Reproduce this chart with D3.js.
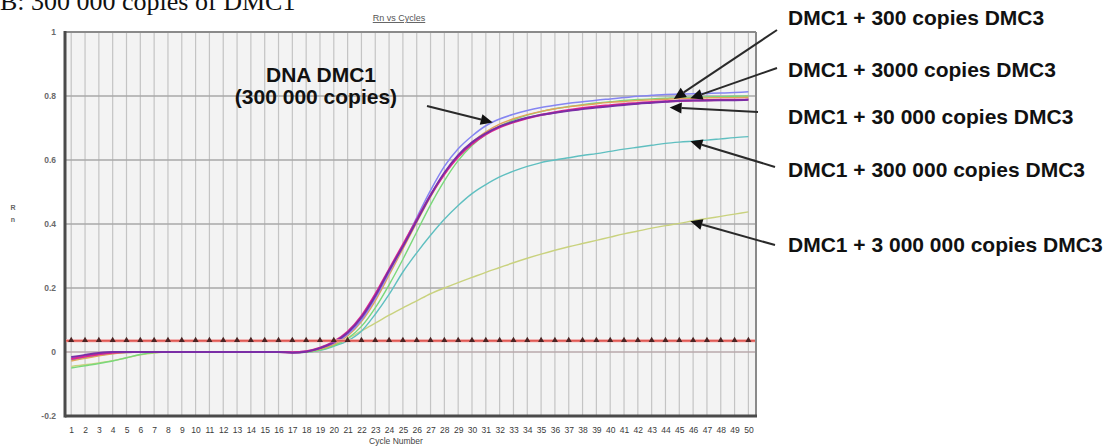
<!DOCTYPE html>
<html>
<head>
<meta charset="utf-8">
<script src="https://cdn.jsdelivr.net/npm/d3@7"></script>
<style>
  html, body { margin: 0; padding: 0; background: #fff; }
  svg { display: block; }
</style>
</head>
<body>
<svg id="chart" width="1115" height="448"></svg>
<script>
// Amplification plot: normalised reporter (Rn) per PCR cycle
const cycles = d3.range(1, 51);
const yTicks = [-0.2, 0, 0.2, 0.4, 0.6, 0.8, 1];
const yTickLabels = ["-0.2", "0", "0.2", "0.4", "0.6", "0.8", "1"];
const thresholdValue = 0.035;

const seriesNames = ["yellowgreen", "teal", "green", "orange", "blue", "magenta", "purple"];

const yellowgreen = [-0.045,-0.040,-0.034,-0.027,-0.018,-0.009,-0.003,0,0,0,
  0,0,0,0,0,0,0,0,0.008,0.022,
  0.042,0.066,0.090,0.115,0.138,0.160,0.182,0.200,0.217,0.233,
  0.249,0.264,0.279,0.293,0.306,0.318,0.329,0.339,0.349,0.359,
  0.369,0.378,0.387,0.395,0.402,0.410,0.417,0.424,0.431,0.438];

const teal = [-0.025,-0.017,-0.010,-0.005,-0.002,0,0,0,0,0,
  0,0,0,0,0,0,0,0,0.005,0.018,
  0.035,0.065,0.118,0.180,0.250,0.310,0.365,0.415,0.458,0.495,
  0.523,0.547,0.565,0.580,0.592,0.600,0.607,0.614,0.620,0.627,
  0.634,0.640,0.646,0.652,0.656,0.659,0.662,0.666,0.670,0.673];

const green = [-0.050,-0.043,-0.036,-0.028,-0.018,-0.008,-0.002,0,0,0,
  0,0,0,0,0,0,-0.002,-0.001,0.006,0.020,
  0.042,0.080,0.138,0.210,0.290,0.375,0.460,0.535,0.598,0.645,
  0.680,0.706,0.725,0.740,0.751,0.760,0.767,0.773,0.778,0.782,
  0.786,0.789,0.791,0.793,0.795,0.796,0.797,0.798,0.799,0.800];

const orange = [-0.028,-0.020,-0.012,-0.006,-0.002,0,0,0,0,0,
  0,0,0,0,0,0,0,0.001,0.009,0.024,
  0.050,0.095,0.160,0.240,0.322,0.405,0.485,0.556,0.612,0.655,
  0.688,0.712,0.729,0.742,0.752,0.760,0.766,0.771,0.776,0.780,
  0.783,0.786,0.788,0.790,0.792,0.793,0.794,0.795,0.795,0.796];

const blue = [-0.020,-0.012,-0.005,-0.001,0,0,0,0,0,0,
  0,0,0,0,0,0,0,0.002,0.012,0.028,
  0.055,0.100,0.168,0.248,0.330,0.420,0.505,0.580,0.635,0.675,
  0.707,0.728,0.743,0.755,0.764,0.771,0.777,0.782,0.787,0.791,
  0.795,0.799,0.802,0.805,0.806,0.807,0.808,0.809,0.811,0.813];

const magenta = [-0.022,-0.014,-0.007,-0.002,0,0,0,0,0,0,
  0,0,0,0,0,0,-0.001,0.002,0.013,0.032,
  0.063,0.112,0.180,0.258,0.335,0.413,0.490,0.556,0.610,0.650,
  0.680,0.702,0.718,0.731,0.741,0.749,0.756,0.762,0.767,0.771,
  0.775,0.778,0.781,0.783,0.785,0.786,0.787,0.788,0.788,0.789];

const purple = [-0.016,-0.009,-0.003,0,0,0,0,0,0,0,
  0,0,0,0,0,0,-0.002,0.001,0.012,0.030,
  0.060,0.108,0.175,0.255,0.330,0.410,0.490,0.560,0.615,0.655,
  0.683,0.705,0.720,0.732,0.741,0.748,0.754,0.759,0.764,0.768,
  0.772,0.776,0.779,0.782,0.785,0.786,0.786,0.787,0.787,0.788];

const seriesValues = { yellowgreen, teal, green, orange, blue, magenta, purple };
const seriesColors = {
  yellowgreen: "#c9d27e", teal: "#5fbfc0", green: "#7ad87a", orange: "#e2a35a",
  blue: "#8585f2", magenta: "#e0258e", purple: "#7a2ea6"
};
const seriesWidths = {
  yellowgreen: 1.4, teal: 1.4, green: 1.4, orange: 1.4, blue: 1.5, magenta: 2.2, purple: 2
};

// Callout labels and the curve each one points at
const calloutTexts = [
  "DMC1 + 300 copies DMC3",
  "DMC1 + 3000 copies DMC3",
  "DMC1 + 30 000 copies DMC3",
  "DMC1 + 300 000 copies DMC3",
  "DMC1 + 3 000 000 copies DMC3"
];
const calloutSeries = ["magenta", "orange", "purple", "teal", "yellowgreen"];
const calloutCycles = [44.6, 45.8, 44.3, 45.8, 45.8];
const dnaLabelLines = ["DNA DMC1", "(300 000 copies)"];

// ---------- layout ----------
const svg = d3.select("#chart");
const plot = { left: 65, right: 756, top: 32, bottom: 416 };

const x = d3.scaleLinear().domain([0.55, 50.55]).range([plot.left, plot.right]);
const y = d3.scaleLinear().domain([-0.2, 1]).range([plot.bottom, plot.top]);

// panel heading (partly above the page edge)
svg.append("text")
  .attr("x", 0).attr("y", 10)
  .attr("font-family", "Liberation Serif, Times New Roman, serif")
  .attr("font-size", 26)
  .attr("fill", "#111")
  .text("B: 300 000 copies of DMC1");

// chart title
svg.append("text")
  .attr("x", 399).attr("y", 21)
  .attr("text-anchor", "middle")
  .attr("font-family", "Liberation Sans, Arial, sans-serif")
  .attr("font-size", 9)
  .attr("fill", "#555")
  .attr("text-decoration", "underline")
  .text("Rn vs Cycles");

// plot background
svg.append("rect")
  .attr("x", plot.left).attr("y", plot.top)
  .attr("width", plot.right - plot.left).attr("height", plot.bottom - plot.top)
  .attr("fill", "#f3f3f3");

// vertical grid, one line per cycle
svg.append("g")
  .selectAll("line").data(cycles).join("line")
  .attr("x1", d => x(d)).attr("x2", d => x(d))
  .attr("y1", plot.top).attr("y2", plot.bottom)
  .attr("stroke", "#c4c4c4").attr("stroke-width", 1.2);

// horizontal grid
svg.append("g")
  .selectAll("line").data(yTicks.filter(v => v > -0.2 && v < 1)).join("line")
  .attr("x1", plot.left).attr("x2", plot.right)
  .attr("y1", d => y(d)).attr("y2", d => y(d))
  .attr("stroke", d => d === 0 ? "#b9a9ab" : "#a9a9a9").attr("stroke-width", 1.3);

// frame
svg.append("line").attr("x1", plot.left).attr("x2", plot.right)
  .attr("y1", plot.top).attr("y2", plot.top).attr("stroke", "#8a8a8a").attr("stroke-width", 2);
svg.append("line").attr("x1", plot.right).attr("x2", plot.right)
  .attr("y1", plot.top).attr("y2", plot.bottom).attr("stroke", "#8a8a8a").attr("stroke-width", 2);
svg.append("line").attr("x1", plot.left).attr("x2", plot.left)
  .attr("y1", plot.top - 1).attr("y2", plot.bottom + 1.5).attr("stroke", "#4a4a4a").attr("stroke-width", 3);
svg.append("line").attr("x1", plot.left).attr("x2", plot.right + 1)
  .attr("y1", plot.bottom).attr("y2", plot.bottom).attr("stroke", "#4a4a4a").attr("stroke-width", 3);

// axes (labels only)
const yAxis = d3.axisLeft(y).tickValues(yTicks).tickSize(0).tickPadding(9)
  .tickFormat((d, i) => yTickLabels[i]);
const gy = svg.append("g").attr("transform", `translate(${plot.left},0)`).call(yAxis);
gy.select(".domain").remove();
gy.selectAll("text")
  .attr("font-family", "Liberation Sans, Arial, sans-serif")
  .attr("font-size", 8.5).attr("font-weight", "bold").attr("fill", "#6a6a6a");

const xAxis = d3.axisBottom(x).tickValues(cycles).tickSize(0).tickPadding(11)
  .tickFormat(d3.format("d"));
const gx = svg.append("g").attr("transform", `translate(0,${plot.bottom})`).call(xAxis);
gx.select(".domain").remove();
gx.selectAll("text")
  .attr("font-family", "Liberation Sans, Arial, sans-serif")
  .attr("font-size", 8.5).attr("fill", "#3a3a3a");

// axis titles
svg.append("text")
  .attr("x", 396).attr("y", 444)
  .attr("text-anchor", "middle")
  .attr("font-family", "Liberation Sans, Arial, sans-serif")
  .attr("font-size", 8.5).attr("fill", "#444")
  .text("Cycle Number");
const rn = svg.append("text")
  .attr("font-family", "Liberation Sans, Arial, sans-serif")
  .attr("font-size", 7).attr("font-weight", "bold").attr("fill", "#666")
  .attr("text-anchor", "middle");
rn.append("tspan").attr("x", 13).attr("y", 210).text("R");
rn.append("tspan").attr("x", 13).attr("y", 222).text("n");

// amplification curves
const line = d3.line()
  .x((d, i) => x(cycles[i]))
  .y(d => y(d))
  .curve(d3.curveMonotoneX);

svg.append("g")
  .selectAll("path").data(seriesNames).join("path")
  .attr("d", name => line(seriesValues[name]))
  .attr("fill", "none")
  .attr("stroke", name => seriesColors[name])
  .attr("stroke-width", name => seriesWidths[name])
  .attr("stroke-linejoin", "round");

// threshold line with cycle markers
svg.append("line")
  .attr("x1", plot.left + 1).attr("x2", plot.right - 1)
  .attr("y1", y(thresholdValue)).attr("y2", y(thresholdValue))
  .attr("stroke", "#f2a0a0").attr("stroke-width", 3);
svg.append("line")
  .attr("x1", plot.left + 1).attr("x2", plot.right - 1)
  .attr("y1", y(thresholdValue)).attr("y2", y(thresholdValue))
  .attr("stroke", "#d9443c").attr("stroke-width", 1.3);
svg.append("g")
  .selectAll("path").data(cycles).join("path")
  .attr("transform", d => `translate(${x(d)},${y(thresholdValue) - 0.5})`)
  .attr("d", d3.symbol(d3.symbolTriangle, 16))
  .attr("fill", "#4a2424");

// ---------- callouts ----------
function valueAt(name, c) {
  const v = seriesValues[name];
  const i = Math.floor(c) - 1;
  const t = c - Math.floor(c);
  return v[i] + (v[Math.min(i + 1, v.length - 1)] - v[i]) * t;
}

function arrow(g, x0, y0, x1, y1) {
  const ang = Math.atan2(y1 - y0, x1 - x0);
  const len = 12, half = 5.5;
  const bx = x1 - len * Math.cos(ang), by = y1 - len * Math.sin(ang);
  g.append("line")
    .attr("x1", x0).attr("y1", y0).attr("x2", bx).attr("y2", by)
    .attr("stroke", "#2a2a2a").attr("stroke-width", 2);
  const px = -Math.sin(ang) * half, py = Math.cos(ang) * half;
  g.append("path")
    .attr("d", `M${x1},${y1}L${bx + px},${by + py}L${bx - px},${by - py}Z`)
    .attr("fill", "#111");
}

const annot = svg.append("g");
const labelFont = "Liberation Sans, Arial, sans-serif";
const labelX = 788;
const labelBaselines = [25, 77, 124, 177, 252];
const tailPoints = [[777, 30], [777, 68], [758, 112], [775, 167], [775, 245]];
const tipOffsets = [-2, 0, 6, 0, 0];

calloutTexts.forEach((t, i) => {
  annot.append("text")
    .attr("x", labelX).attr("y", labelBaselines[i])
    .attr("font-family", labelFont).attr("font-size", 21).attr("font-weight", "bold")
    .attr("fill", "#111")
    .text(t);
  const c = calloutCycles[i];
  const tx = x(c), ty = y(valueAt(calloutSeries[i], c)) + tipOffsets[i];
  arrow(annot, tailPoints[i][0], tailPoints[i][1], tx, ty);
});

// DNA-only control callout
const dnaText = annot.append("text")
  .attr("font-family", labelFont).attr("font-size", 21).attr("font-weight", "bold")
  .attr("fill", "#111").attr("text-anchor", "middle");
dnaText.append("tspan").attr("x", 321).attr("y", 82).text(dnaLabelLines[0]);
dnaText.append("tspan").attr("x", 316).attr("y", 104).text(dnaLabelLines[1]);
arrow(annot, 427, 106, x(31.5), y(valueAt("blue", 31.5)));
</script>
</body>
</html>
